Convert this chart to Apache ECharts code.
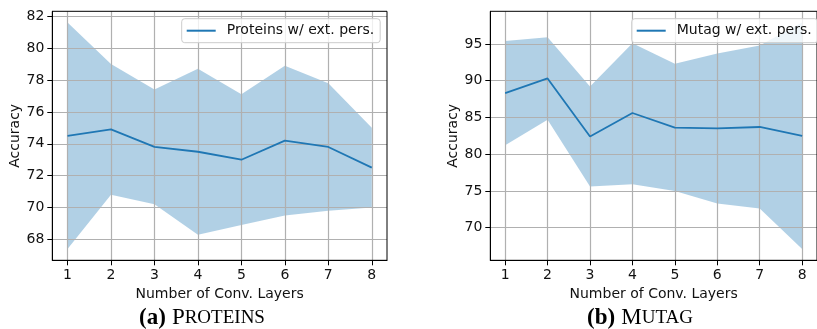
<!DOCTYPE html>
<html>
<head>
<meta charset="utf-8">
<script src="https://cdn.jsdelivr.net/npm/echarts@6/dist/echarts.min.js"></script>
<style>
  html, body { margin: 0; padding: 0; background: #fff; }
  #chart { width: 817px; height: 329px; }
</style>
</head>
<body>
<div id="chart"></div>
<script>
const layers = [1, 2, 3, 4, 5, 6, 7, 8];
const layerTicks = [1, 2, 3, 4, 5, 6, 7, 8];

const proteinsMean = [74.5, 74.9, 73.8, 73.5, 73.0, 74.2, 73.8, 72.5];
const proteinsUpper = [81.6, 79.0, 77.4, 78.7, 77.1, 78.9, 77.8, 75.0];
const proteinsLower = [67.4, 70.8, 70.2, 68.3, 68.9, 69.5, 69.8, 70.0];
const proteinsTicks = [68, 70, 72, 74, 76, 78, 80, 82];

const mutagMean = [88.3, 90.3, 82.4, 85.6, 83.6, 83.5, 83.7, 82.5];
const mutagUpper = [95.4, 95.9, 89.2, 95.1, 92.3, 93.7, 94.8, 97.9];
const mutagLower = [81.2, 84.7, 75.6, 75.9, 75.0, 73.3, 72.6, 67.1];
const mutagTicks = [70, 75, 80, 85, 90, 95];

const FONT = 'DejaVu Sans';
const BLUE = '#1f77b4';

// matplotlib style 5% margins
function pad(lo, hi) {
  const d = (hi - lo) * 0.05;
  return [lo - d, hi + d];
}
const xExt = pad(1, 8);
const pExt = pad(Math.min(...proteinsLower), Math.max(...proteinsUpper));
const mExt = pad(Math.min(...mutagLower), Math.max(...mutagUpper));

function xAxisFor(idx) {
  return {
    gridIndex: idx,
    type: 'value',
    min: xExt[0],
    max: xExt[1],
    z: 3,
    name: 'Number of Conv. Layers',
    nameLocation: 'middle',
    nameGap: 20,
    nameTextStyle: { fontFamily: FONT, fontSize: 14, color: '#111' },
    axisLine: { show: true, lineStyle: { color: '#000', width: 1 } },
    axisTick: { show: true, length: 5, customValues: layerTicks, lineStyle: { color: '#000' } },
    axisLabel: { customValues: layerTicks, margin: 8, fontFamily: FONT, fontSize: 14, color: '#111' },
    splitLine: { show: true, lineStyle: { color: '#b0b0b0', width: 1.2 } }
  };
}

function yAxisFor(idx, ext, ticks, gap) {
  return {
    gridIndex: idx,
    type: 'value',
    min: ext[0],
    max: ext[1],
    z: 3,
    name: 'Accuracy',
    nameLocation: 'middle',
    nameGap: gap,
    nameTextStyle: { fontFamily: FONT, fontSize: 14, color: '#111' },
    axisLine: { show: true, lineStyle: { color: '#000', width: 1 } },
    axisTick: { show: true, length: 5, customValues: ticks, lineStyle: { color: '#000' } },
    axisLabel: { customValues: ticks, margin: 8, fontFamily: FONT, fontSize: 14, color: '#111' },
    splitLine: { show: true, lineStyle: { color: '#b0b0b0', width: 1.2 } }
  };
}

function band(idx, lower, upper) {
  return {
    type: 'custom',
    xAxisIndex: idx,
    yAxisIndex: idx,
    z: 1,
    silent: true,
    data: layers.map((x, i) => [x, lower[i], upper[i]]),
    encode: { x: 0, y: [1, 2] },
    renderItem: function (params, api) {
      if (params.dataIndex !== 0) return;
      const pts = [];
      for (let i = 0; i < layers.length; i++) pts.push(api.coord([layers[i], upper[i]]));
      for (let i = layers.length - 1; i >= 0; i--) pts.push(api.coord([layers[i], lower[i]]));
      return {
        type: 'polygon',
        shape: { points: pts },
        style: { fill: 'rgba(31,119,180,0.35)' }
      };
    }
  };
}

function meanLine(idx, name, vals) {
  return {
    name: name,
    type: 'line',
    xAxisIndex: idx,
    yAxisIndex: idx,
    z: 5,
    symbol: 'none',
    data: layers.map((x, i) => [x, vals[i]]),
    lineStyle: { color: BLUE, width: 1.8 },
    itemStyle: { color: BLUE }
  };
}

function legendFor(name, left) {
  return {
    data: [{ name: name, icon: 'rect' }],
    left: left,
    top: 18.7,
    itemWidth: 29,
    itemHeight: 2,
    padding: [5, 6, 5, 5],
    backgroundColor: 'rgba(255,255,255,0.8)',
    borderColor: '#cccccc',
    borderWidth: 1,
    borderRadius: 3,
    textStyle: { fontFamily: FONT, fontSize: 14, color: '#111', padding: [0, 0, 0, 6] }
  };
}

const capRich = {
  b: { fontFamily: 'Liberation Serif', fontWeight: 'bold', fontSize: 23, fill: '#000', padding: [0, 6, 0, 0] },
  r: { fontFamily: 'Liberation Serif', fontSize: 23, fill: '#000' },
  s: { fontFamily: 'Liberation Serif', fontSize: 19, fill: '#000' }
};

const chart = echarts.init(document.getElementById('chart'), null, { renderer: 'canvas' });
chart.setOption({
  animation: false,
  backgroundColor: '#fff',
  grid: [
    { left: 52.3, top: 11.3, width: 334.7, height: 249, show: true, z: 4, borderColor: '#000', borderWidth: 1, backgroundColor: 'transparent' },
    { left: 490.3, top: 11.3, width: 334.9, height: 249, show: true, z: 4, borderColor: '#000', borderWidth: 1, backgroundColor: 'transparent' }
  ],
  xAxis: [xAxisFor(0), xAxisFor(1)],
  yAxis: [yAxisFor(0, pExt, proteinsTicks, 25), yAxisFor(1, mExt, mutagTicks, 27)],
  legend: [legendFor('Proteins w/ ext. pers.', 181.7), legendFor('Mutag w/ ext. pers.', 631.7)],
  series: [
    band(0, proteinsLower, proteinsUpper),
    meanLine(0, 'Proteins w/ ext. pers.', proteinsMean),
    band(1, mutagLower, mutagUpper),
    meanLine(1, 'Mutag w/ ext. pers.', mutagMean)
  ],
  graphic: [
    {
      type: 'text',
      x: 202,
      y: 318,
      style: { text: '{b|(a)}{r|P}{s|ROTEINS}', align: 'center', verticalAlign: 'middle', rich: capRich }
    },
    {
      type: 'text',
      x: 640,
      y: 318,
      style: { text: '{b|(b)}{r|M}{s|UTAG}', align: 'center', verticalAlign: 'middle', rich: capRich }
    }
  ]
});
</script>
</body>
</html>
